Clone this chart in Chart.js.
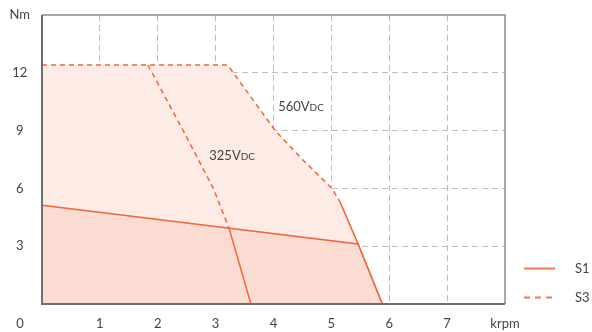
<!DOCTYPE html>
<html lang="en">
<head>
  <meta charset="UTF-8">
  <title>Torque / speed</title>
  <style>
    body {
      margin: 0;
      padding: 0;
      background-color: #fff;
    }

    #chart-wrap {
      width: 592px;
      height: 332px;
    }
  </style>
</head>
<body>
  <div id="chart-wrap">
    <canvas id="torque-chart" width="592" height="332"></canvas>
  </div>

  <script src="https://cdn.jsdelivr.net/npm/chart.js"></script>
  <script>
    // S3 curve at 560 VDC (last segment is the solid S1 drop)
    const s3HighX = [0, 3.21, 4.03, 4.5, 5.01, 5.15, 5.46, 5.88];
    const s3HighY = [12.4, 12.4, 9.0, 7.5, 6.0, 5.3, 3.12, 0];

    // S1 curve at 560 VDC
    const s1X = [0, 5.46, 5.88];
    const s1Y = [5.13, 3.12, 0];

    // S3 curve at 325 VDC (last segment is the solid S1 drop)
    const s3LowX = [1.83, 2.44, 2.96, 3.23, 3.61];
    const s3LowY = [12.4, 9.0, 6.0, 3.95, 0];

    // tick labels
    const xTickText = { 8: 'krpm' };
    const yTickText = { 15: 'Nm' };
    const originLabel = '0';

    // voltage labels (data coordinates, baseline)
    const voltText = ['560V', '325V'];
    const voltX = [4.08, 2.89];
    const voltY = [10.04, 7.48];

    // legend
    const legendNames = ['S1', 'S3'];

    const lineColor = '#f2643a';
    const lightFill = '#fdebe6';
    const darkFill = '#fadcd3';
    const fontFamily = "'Lato', 'Open Sans', sans-serif";

    function toPoints(xs, ys) {
      return xs.map((x, i) => ({ x: x, y: ys[i] }));
    }

    // dashed up to the given point index, solid afterwards
    function dashUntil(lastIndex) {
      return ctx => ctx.p1DataIndex <= lastIndex ? [5, 4] : [];
    }

    const framePlugin = {
      id: 'frame',
      afterDatasetsDraw(chart) {
        const a = chart.chartArea;
        const ctx = chart.ctx;
        ctx.save();
        ctx.setLineDash([]);
        ctx.strokeStyle = '#8c8c8c';
        ctx.lineWidth = 1.5;
        ctx.beginPath();
        ctx.moveTo(a.left, a.top);
        ctx.lineTo(a.right, a.top);
        ctx.lineTo(a.right, a.bottom);
        ctx.stroke();
        ctx.strokeStyle = '#6e6e6e';
        ctx.lineWidth = 2;
        ctx.beginPath();
        ctx.moveTo(a.left, a.top);
        ctx.lineTo(a.left, a.bottom);
        ctx.lineTo(a.right, a.bottom);
        ctx.stroke();
        ctx.restore();
      }
    };

    const textPlugin = {
      id: 'extraText',
      afterDraw(chart) {
        const ctx = chart.ctx;
        const xs = chart.scales.x;
        const ys = chart.scales.y;
        ctx.save();
        ctx.fillStyle = '#444';

        // voltage labels with small "DC"
        voltText.forEach((t, i) => {
          const px = xs.getPixelForValue(voltX[i]);
          const py = ys.getPixelForValue(voltY[i]);
          ctx.textAlign = 'left';
          ctx.textBaseline = 'alphabetic';
          ctx.font = '13px ' + fontFamily;
          ctx.fillText(t, px, py);
          const w = ctx.measureText(t).width;
          ctx.font = '10px ' + fontFamily;
          ctx.fillText('DC', px + w, py);
        });

        // origin "0"
        ctx.font = '13px ' + fontFamily;
        ctx.textAlign = 'center';
        ctx.textBaseline = 'middle';
        ctx.fillText(originLabel, chart.chartArea.left - 22, 324);

        // legend
        const lx = chart.width - 68;
        const rows = [268.5, 297.5];
        rows.forEach((ry, i) => {
          ctx.strokeStyle = '#f07a55';
          ctx.lineWidth = 2;
          ctx.setLineDash(i === 0 ? [] : [6, 5]);
          ctx.beginPath();
          ctx.moveTo(lx, ry);
          ctx.lineTo(lx + 31, ry);
          ctx.stroke();
          ctx.setLineDash([]);
          ctx.textAlign = 'left';
          ctx.fillText(legendNames[i], lx + 51, ry);
        });
        ctx.restore();
      }
    };

    const ctx = document.getElementById('torque-chart').getContext('2d');
    const torqueChart = new Chart(ctx, {
      type: 'line',
      data: {
        datasets: [
          {
            label: 'S3 325V',
            data: toPoints(s3LowX, s3LowY),
            borderColor: lineColor,
            borderWidth: 1.5,
            pointRadius: 0,
            fill: false,
            segment: { borderDash: dashUntil(3) }
          },
          {
            label: 'S1',
            data: toPoints(s1X, s1Y),
            borderColor: lineColor,
            backgroundColor: darkFill,
            borderWidth: 1.5,
            pointRadius: 0,
            fill: 'origin'
          },
          {
            label: 'S3 560V',
            data: toPoints(s3HighX, s3HighY),
            borderColor: lineColor,
            backgroundColor: lightFill,
            borderWidth: 1.5,
            pointRadius: 0,
            fill: 'origin',
            segment: { borderDash: dashUntil(5) }
          }
        ]
      },
      options: {
        responsive: false,
        animation: false,
        layout: {
          padding: { top: 15, right: 87, left: 0, bottom: 0 }
        },
        plugins: {
          legend: { display: false },
          tooltip: { enabled: false }
        },
        scales: {
          x: {
            type: 'linear',
            min: 0,
            max: 8,
            afterFit: scale => {
              scale.height = 28;
              scale.paddingLeft = 0;
              scale.paddingRight = 0;
            },
            border: { display: false, dash: [6, 4] },
            grid: {
              drawTicks: false,
              color: c => (c.tick.value === 0 || c.tick.value === 8) ? 'rgba(0,0,0,0)' : '#bdbdbd',
              lineWidth: 1
            },
            ticks: {
              stepSize: 1,
              padding: 12,
              color: '#444',
              font: { size: 13, family: fontFamily },
              callback: v => v === 0 ? '' : (xTickText[v] || String(v))
            }
          },
          y: {
            min: 0,
            max: 15,
            afterFit: scale => {
              scale.width = 42;
              scale.paddingTop = 0;
              scale.paddingBottom = 0;
            },
            border: { display: false, dash: [6, 4] },
            grid: {
              drawTicks: false,
              color: c => (c.tick.value === 0 || c.tick.value === 15) ? 'rgba(0,0,0,0)' : '#bdbdbd',
              lineWidth: 1
            },
            ticks: {
              stepSize: 3,
              padding: 12,
              crossAlign: 'center',
              color: '#444',
              font: { size: 13, family: fontFamily },
              callback: v => v === 0 ? '' : (yTickText[v] || String(v))
            }
          }
        }
      },
      plugins: [framePlugin, textPlugin]
    });
  </script>
</body>
</html>
